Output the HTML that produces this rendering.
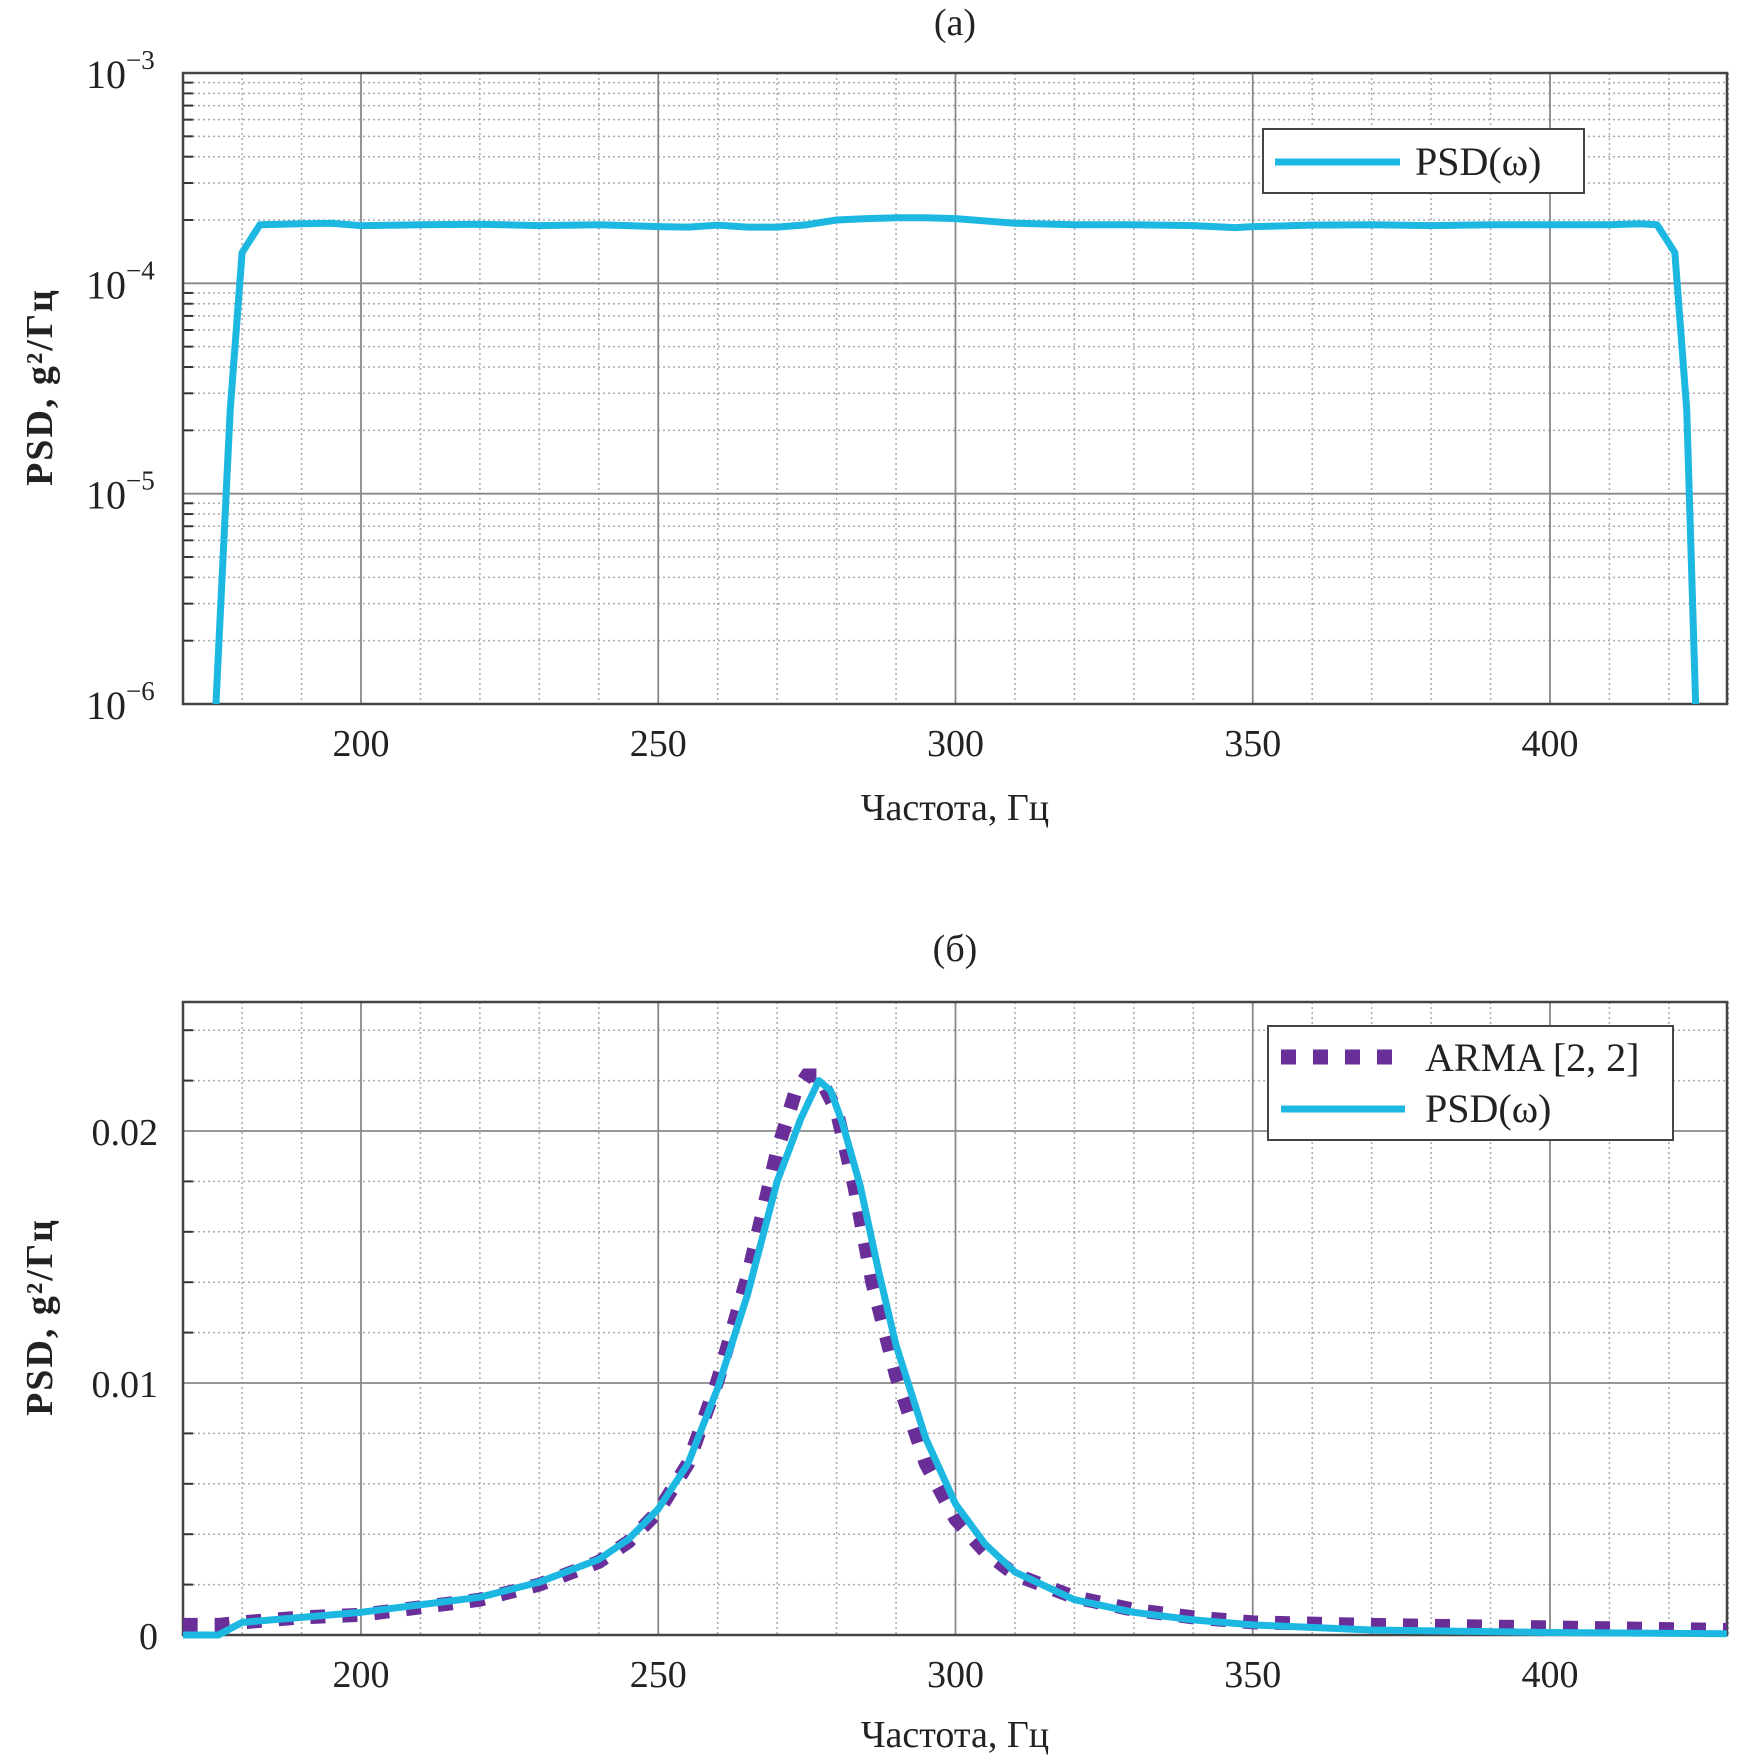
<!DOCTYPE html>
<html><head><meta charset="utf-8"><style>
html,body{margin:0;padding:0;background:#fff;}
svg{display:block;font-family:"Liberation Serif",serif;}
</style></head><body>
<svg id="chart" width="1738" height="1764" viewBox="0 0 1738 1764" xmlns="http://www.w3.org/2000/svg"></svg>
<script>
// Panel (a) data: log PSD
const freqA=[175.6,178,180,183,190,195,200,210,220,230,240,250,255,260,265,270,275,280,285,290,295,300,305,310,320,330,340,347,350,360,370,380,390,400,410,415,418,421,423,424.5];
const psdA=[1e-6,2.5e-5,1.4e-4,1.9e-4,1.92e-4,1.93e-4,1.88e-4,1.9e-4,1.91e-4,1.88e-4,1.9e-4,1.86e-4,1.85e-4,1.89e-4,1.85e-4,1.85e-4,1.9e-4,2.0e-4,2.03e-4,2.05e-4,2.05e-4,2.03e-4,1.98e-4,1.93e-4,1.9e-4,1.9e-4,1.88e-4,1.84e-4,1.86e-4,1.89e-4,1.9e-4,1.88e-4,1.9e-4,1.9e-4,1.9e-4,1.92e-4,1.9e-4,1.4e-4,2.5e-5,1e-6];
const yTicksA=[-3,-4,-5,-6];
// Panel (b) data: linear PSD
const freqB=[170,176,180,190,200,210,220,230,240,245,250,255,260,265,270,274,277,279,281,284,287,290,295,300,305,310,320,330,340,350,370,400,430];
const psdB=[0,0,0.0005,0.0007,0.0009,0.0012,0.0015,0.0021,0.003,0.0038,0.005,0.0068,0.0098,0.0135,0.018,0.0205,0.022,0.0216,0.0203,0.0178,0.0145,0.0115,0.0078,0.0052,0.0036,0.0025,0.0014,0.0009,0.0006,0.0004,0.0002,0.0001,0.00005];
const freqArma=[170,176,180,190,200,210,220,230,240,245,250,255,260,265,270,273,275,277,280,283,286,290,295,300,305,310,320,330,340,350,370,400,430];
const arma=[0.0004,0.0004,0.0005,0.0007,0.0008,0.0011,0.0014,0.002,0.0029,0.0037,0.0049,0.0068,0.0101,0.0142,0.0192,0.0215,0.0222,0.0222,0.0208,0.0178,0.014,0.0103,0.0068,0.0046,0.0033,0.0024,0.0015,0.0010,0.0007,0.0005,0.0004,0.0003,0.0002];
const xTicks=[200,250,300,350,400];
const yTicksB=[0,0.01,0.02];

const NS='http://www.w3.org/2000/svg';
const svg=document.getElementById('chart');
function el(tag,attrs,parent,text){const e=document.createElementNS(NS,tag);for(const k in attrs)e.setAttribute(k,attrs[k]);if(text!==undefined)e.textContent=text;(parent||svg).appendChild(e);return e;}

const L=183,R=1727;
const xS=f=>361+(f-200)*(1550-361)/200;
const topA=73,botA=704;
const yA=v=>topA+(-3-Math.log10(v))*((botA-topA)/3);
const topB=1002,botB=1635;
const yB=v=>botB-v*(botB-1131)/0.02;

function grid(g,top,bot,hLines,hMajor){
  for(let f=170;f<=430;f+=10){if(f%50===0)continue;const x=xS(f);el('line',{x1:x,x2:x,y1:top,y2:bot,stroke:'#aaa','stroke-width':1.5,'stroke-dasharray':'2 3'},g);}
  hLines.forEach(y=>{el('line',{x1:L,x2:R,y1:y,y2:y,stroke:'#aaa','stroke-width':1.5,'stroke-dasharray':'2 3'},g);el('line',{x1:L,x2:L+10,y1:y,y2:y,stroke:'#333','stroke-width':2},g);});
  xTicks.forEach(f=>{const x=xS(f);el('line',{x1:x,x2:x,y1:top,y2:bot,stroke:'#888','stroke-width':1.8},g);});
  hMajor.forEach(y=>el('line',{x1:L,x2:R,y1:y,y2:y,stroke:'#888','stroke-width':1.8},g));
  el('rect',{x:L,y:top,width:R-L,height:bot-top,fill:'none',stroke:'#444','stroke-width':2.5},g);
  xTicks.forEach(f=>{const t=el('text',{x:xS(f),y:bot+52,'font-size':38,'text-anchor':'middle',fill:'#222'},g,String(f));});
}

// ---- Panel A ----
const gA=el('g',{});
el('text',{x:955,y:35,'font-size':38,'text-anchor':'middle',fill:'#222',},gA,'(a)');
const minorA=[],majorA=[];
for(let e=-6;e<-3;e++){for(let m=2;m<=9;m++)minorA.push(yA(m*Math.pow(10,e)));}
yTicksA.forEach(e=>{if(e!==-3&&e!==-6)majorA.push(yA(Math.pow(10,e)));});
grid(gA,topA,botA,minorA,majorA);
yTicksA.forEach(e=>{const y=yA(Math.pow(10,e));const t=el('text',{x:86,y:y+15,'font-size':40,fill:'#222'},gA);
  el('tspan',{},t,'10');el('tspan',{dy:-19,'font-size':27},t,'\u2212'+(-e));});
const pA=freqA.map((f,i)=>xS(f)+','+yA(psdA[i])).join(' ');
const lineA=el('polyline',{points:pA,fill:'none',stroke:'#1cb8e2','stroke-width':7,'stroke-linejoin':'round'},gA);


const legA=el('g',{},gA);
el('rect',{x:1263,y:129,width:321,height:64,fill:'#fff',stroke:'#444','stroke-width':2},legA);
el('line',{x1:1275,x2:1400,y1:162,y2:162,stroke:'#1cb8e2','stroke-width':7},legA);
el('text',{x:1415,y:175,'font-size':40,fill:'#222'},legA,'PSD(\u03c9)');
el('text',{x:955,y:820,'font-size':38,'text-anchor':'middle',fill:'#222',},gA,'Частота, Гц');
el('text',{x:0,y:0,'font-size':38,'font-weight':'bold','letter-spacing':'2','text-anchor':'middle',fill:'#222',transform:'translate(52,387) rotate(-90)',},gA,'PSD, g²/Гц');

// ---- Panel B ----
const gB=el('g',{});
el('text',{x:955,y:961,'font-size':38,'text-anchor':'middle',fill:'#222',},gB,'(б)');
const minorB=[],majorB=[];
for(let v=0.002;v<0.025;v+=0.002){if(Math.abs(v-0.01)<1e-6||Math.abs(v-0.02)<1e-6)continue;minorB.push(yB(v));}
yTicksB.forEach(v=>{if(v>0)majorB.push(yB(v));});
grid(gB,topB,botB,minorB,majorB);
yTicksB.forEach(v=>{const t=el('text',{x:158,y:yB(v)+14,'font-size':38,'text-anchor':'end',fill:'#222'},gB,String(v));});
const clip=el('clipPath',{id:'clipB'},gB);el('rect',{x:L,y:topB,width:R-L,height:botB-topB+10},clip);
const pArma=freqArma.map((f,i)=>xS(f)+','+yB(arma[i])).join(' ');
const lineArma=el('polyline',{points:pArma,fill:'none',stroke:'#6a2e98','stroke-width':14,'stroke-dasharray':'15 17','clip-path':'url(#clipB)'},gB);


const pB=freqB.map((f,i)=>xS(f)+','+yB(psdB[i])).join(' ');
const lineB=el('polyline',{points:pB,fill:'none',stroke:'#1cb8e2','stroke-width':7,'stroke-linejoin':'round','clip-path':'url(#clipB)'},gB);


const legB=el('g',{},gB);
el('rect',{x:1268,y:1026,width:405,height:114,fill:'#fff',stroke:'#444','stroke-width':2},legB);
el('line',{x1:1281,x2:1395,y1:1057,y2:1057,stroke:'#6a2e98','stroke-width':15,'stroke-dasharray':'15 17'},legB);
el('text',{x:1425,y:1071,'font-size':40,fill:'#222'},legB,'ARMA [2, 2]');
el('line',{x1:1281,x2:1405,y1:1109,y2:1109,stroke:'#1cb8e2','stroke-width':7},legB);
el('text',{x:1425,y:1122,'font-size':40,fill:'#222'},legB,'PSD(\u03c9)');
el('text',{x:955,y:1747,'font-size':38,'text-anchor':'middle',fill:'#222',},gB,'Частота, Гц');
el('text',{x:0,y:0,'font-size':38,'font-weight':'bold','letter-spacing':'2','text-anchor':'middle',fill:'#222',transform:'translate(52,1317) rotate(-90)',},gB,'PSD, g²/Гц');
</script>
</body></html>
